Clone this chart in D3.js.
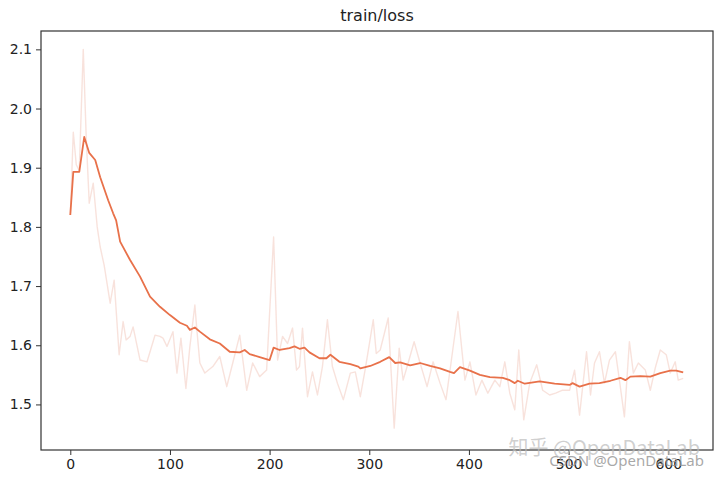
<!DOCTYPE html>
<html><head><meta charset="utf-8">
<script src="https://cdn.jsdelivr.net/npm/d3@7"></script>
<style>body{margin:0;background:#fff}svg{display:block}</style>
</head><body><svg id="c" width="720" height="479"></svg>
<script>
const title = "train/loss";
const xTicks = [0,100,200,300,400,500,600];
const yTicks = [1.5,1.6,1.7,1.8,1.9,2.0,2.1];
const rawSteps = [0,3,6,9,13,16,19,23,27,30,34,40,44,49,53,56,60,63,70,77,85,90,93,97,103,107,111,116,120,125,127,130,135,143,150,157,163,170,177,183,190,197,204,208,213,218,223,227,230,233,238,243,248,253,258,263,268,274,281,286,291,296,304,307,311,319,325,330,334,339,345,351,358,364,371,377,382,389,396,401,407,413,419,426,431,436,441,446,450,455,461,468,474,481,487,494,501,506,511,518,522,526,531,536,541,547,551,556,561,565,570,577,582,587,592,598,602,607,610,615];
const rawValues = [1.820,1.960,1.905,1.895,2.100,1.950,1.840,1.874,1.800,1.766,1.735,1.671,1.710,1.584,1.640,1.609,1.615,1.631,1.575,1.572,1.617,1.615,1.612,1.598,1.623,1.553,1.612,1.527,1.598,1.668,1.626,1.570,1.553,1.564,1.581,1.530,1.570,1.617,1.524,1.570,1.547,1.558,1.783,1.575,1.615,1.603,1.629,1.558,1.564,1.629,1.513,1.555,1.516,1.564,1.643,1.564,1.536,1.508,1.553,1.555,1.513,1.560,1.643,1.586,1.592,1.646,1.460,1.595,1.541,1.570,1.606,1.570,1.530,1.572,1.536,1.508,1.570,1.657,1.541,1.572,1.516,1.541,1.519,1.541,1.530,1.572,1.519,1.491,1.592,1.474,1.536,1.567,1.524,1.516,1.519,1.524,1.524,1.558,1.482,1.589,1.516,1.570,1.589,1.536,1.575,1.589,1.541,1.479,1.606,1.553,1.570,1.558,1.524,1.562,1.592,1.584,1.553,1.572,1.541,1.544];
const smoothSteps = [0,3,9,14,19,25,30,38,43,46,50,60,70,80,90,100,110,117,120,125,130,140,150,160,170,175,180,190,200,204,210,220,225,230,235,240,250,257,261,270,281,289,291,301,311,320,326,331,341,351,361,371,381,385,391,401,411,421,434,441,446,449,456,471,486,501,504,511,521,531,542,552,557,562,572,582,592,602,608,615];
const smoothValues = [1.820,1.893,1.893,1.952,1.925,1.913,1.884,1.845,1.823,1.811,1.775,1.744,1.716,1.682,1.665,1.651,1.638,1.633,1.626,1.630,1.623,1.610,1.603,1.589,1.588,1.592,1.585,1.580,1.575,1.596,1.592,1.595,1.598,1.594,1.596,1.588,1.578,1.578,1.584,1.572,1.568,1.564,1.561,1.565,1.572,1.580,1.570,1.571,1.566,1.570,1.565,1.561,1.555,1.553,1.563,1.557,1.550,1.546,1.545,1.541,1.536,1.540,1.535,1.539,1.535,1.533,1.536,1.530,1.535,1.536,1.540,1.545,1.541,1.547,1.548,1.547,1.553,1.557,1.557,1.554];

const svg = d3.select("#c");
const L=41,R=713,T=31,B=450;
const x = d3.scaleLinear().domain([-29.4,644.9]).range([L,R]);
const y = d3.scaleLinear().domain([1.423,2.131]).range([B,T]);
const col = "#e8714a";
const font = "DejaVu Sans, sans-serif";

const raw = rawSteps.map((s,i)=>[s,rawValues[i]]);
const sm = smoothSteps.map((s,i)=>[s,smoothValues[i]]);
const line = d3.line().x(d=>x(d[0])).y(d=>y(d[1]));

svg.append("path").attr("d",line(raw)).attr("fill","none").attr("stroke","#e8a08a")
  .attr("stroke-opacity",0.3).attr("stroke-width",1.4).attr("stroke-linejoin","round");
svg.append("path").attr("d",line(sm)).attr("fill","none").attr("stroke",col)
  .attr("stroke-width",1.8).attr("stroke-linejoin","round");

const gx = svg.append("g").attr("transform",`translate(0,${B})`)
  .call(d3.axisBottom(x).tickValues(xTicks).tickFormat(d3.format("d")).tickSize(5).tickPadding(4));
const gy = svg.append("g").attr("transform",`translate(${L},0)`)
  .call(d3.axisLeft(y).tickValues(yTicks).tickFormat(d3.format(".1f")).tickSize(5).tickPadding(4));
[gx,gy].forEach(g=>{
  g.select(".domain").remove();
  g.selectAll("line").attr("stroke","#333").attr("stroke-width",1);
  g.selectAll("text").attr("font-family",font).attr("font-size",14).attr("fill","#222");
});
svg.append("rect").attr("x",L).attr("y",T).attr("width",R-L).attr("height",B-T)
  .attr("fill","none").attr("stroke","#333").attr("stroke-width",1.2);

svg.append("text").attr("x",(L+R)/2).attr("y",21).attr("text-anchor","middle")
  .attr("font-family",font).attr("font-size",16).attr("fill","#222").text(title);

svg.append("text").attr("x",700).attr("y",455).attr("text-anchor","end")
  .attr("font-family","Noto Sans CJK SC, sans-serif").attr("font-size",20)
  .attr("fill","#bbb").attr("fill-opacity",0.7).text("知乎 @OpenDataLab");
svg.append("text").attr("x",704).attr("y",466).attr("text-anchor","end")
  .attr("font-family","Noto Sans, sans-serif").attr("font-size",15)
  .attr("fill","#999").attr("fill-opacity",0.85).text("CSDN @OpenDataLab");
</script></body></html>
